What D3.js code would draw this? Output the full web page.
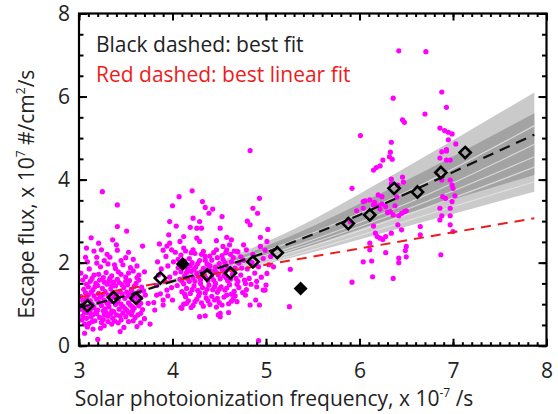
<!DOCTYPE html>
<html>
<head>
<meta charset="utf-8">
<script src="https://d3js.org/d3.v7.min.js"></script>
<style>
body { margin: 0; background: #fff; }
text { font-family: "Open Sans", "Noto Sans", sans-serif; }
</style>
</head>
<body>
<svg id="vis" width="558" height="414"></svg>
<script>
// magenta scatter
const pts_low = [
 [3.06,0.30],[3.20,0.15],[3.11,0.54],[3.44,0.34],[3.53,0.58],[3.62,0.46],[3.09,0.45],[3.15,0.40],[3.27,0.48],[3.35,0.52],[3.03,0.62],[3.70,0.65],[3.48,0.44],
 [3.04,0.72],[3.08,0.66],[3.13,0.70],[3.17,0.60],[3.22,0.68],[3.26,0.63],[3.31,0.71],[3.36,0.66],[3.40,0.74],[3.45,0.62],[3.50,0.70],[3.56,0.75],[3.60,0.68],[3.66,0.78],[3.10,0.79],[3.19,0.77],[3.29,0.80],[3.38,0.59],[3.47,0.79],[3.24,0.56],
 [3.03,0.88],[3.07,0.95],[3.12,0.85],[3.16,0.92],[3.20,0.86],[3.24,0.97],[3.28,0.89],[3.32,0.94],[3.35,0.84],[3.39,0.99],[3.43,0.88],[3.47,0.95],[3.51,0.86],[3.55,0.98],[3.59,0.90],[3.64,0.96],[3.68,0.87],[3.05,1.02],[3.14,1.00],[3.22,1.04],[3.30,1.02],[3.41,1.05],[3.53,1.03],[3.62,1.05],[3.09,0.83],[3.18,0.81],[3.37,0.82],[3.57,0.83],
 [3.04,1.10],[3.08,1.15],[3.12,1.08],[3.16,1.20],[3.19,1.12],[3.23,1.17],[3.27,1.09],[3.31,1.22],[3.34,1.13],[3.38,1.18],[3.42,1.11],[3.46,1.24],[3.49,1.14],[3.53,1.20],[3.57,1.12],[3.61,1.19],[3.66,1.15],[3.07,1.27],[3.13,1.29],[3.21,1.26],[3.28,1.30],[3.36,1.28],[3.44,1.31],[3.51,1.29],[3.58,1.27],[3.64,1.30],[3.71,1.22],
 [3.05,1.36],[3.10,1.42],[3.15,1.35],[3.20,1.45],[3.25,1.38],[3.30,1.48],[3.34,1.37],[3.39,1.44],[3.43,1.52],[3.48,1.40],[3.52,1.47],[3.56,1.36],[3.61,1.50],[3.67,1.41],[3.12,1.55],[3.22,1.58],[3.32,1.56],[3.41,1.60],[3.54,1.57],[3.18,1.50],[3.37,1.53],
 [3.07,1.66],[3.16,1.70],[3.26,1.64],[3.29,1.76],[3.35,1.68],[3.45,1.72],[3.50,1.65],[3.58,1.80],[3.64,1.70],[3.11,1.85],[3.23,1.90],[3.39,1.86],[3.47,1.95],[3.55,1.88],[3.70,1.78],[3.02,1.75],[3.31,1.97],[3.19,1.99],
 [3.25,3.71],[3.41,3.39],[3.41,2.87],[3.51,2.76],[3.21,2.47],[3.40,2.43],[3.16,2.28],[3.24,2.31],[3.41,2.30],[3.07,2.13],[3.19,2.13],[3.33,2.13],[3.58,2.08],[3.30,2.20],[3.45,2.05],[3.08,2.35],[3.53,2.25],[3.13,2.60],
 [3.81,0.86],[3.83,1.22],[3.76,0.52],[3.74,1.02],
 [3.06,0.52],[3.14,0.58],[3.23,0.42],[3.31,0.58],[3.42,0.55],[3.58,0.60],[3.66,0.55],
 [3.06,0.80],[3.15,0.75],[3.27,0.74],[3.34,0.77],[3.44,0.72],[3.53,0.80],[3.63,0.74],
 [3.10,0.92],[3.26,0.84],[3.45,1.00],[3.49,0.90],[3.57,0.94],[3.66,1.02],
 [3.02,1.18],[3.10,1.22],[3.25,1.22],[3.33,1.05],[3.40,1.25],[3.55,1.25],[3.63,1.10],[3.69,1.32],
 [3.08,1.48],[3.17,1.42],[3.27,1.53],[3.35,1.45],[3.46,1.47],[3.50,1.55],[3.59,1.43],[3.64,1.58],
 [3.04,1.58],[3.14,1.62],[3.21,1.72],[3.33,1.62],[3.42,1.78],[3.53,1.75],[3.62,1.64],
 [3.09,2.02],[3.27,2.05],[3.38,1.95],[3.50,2.12],[3.62,1.92],[3.68,2.40],[3.36,2.55]
];
const pts_mid = [
 [4.83,4.70],[4.21,3.73],[4.07,3.59],[4.32,3.47],[4.00,3.37],[4.35,3.33],[4.43,3.29],[4.93,3.55],[4.86,3.31],[4.91,3.19],[4.53,3.11],[4.22,3.07],[3.97,2.99],[4.04,2.88],[4.80,3.00],[5.02,2.80],[3.96,2.67],
 [4.39,3.19],[4.29,2.99],[4.83,2.91],[4.19,2.85],[4.26,2.83],[4.31,2.83],[4.51,2.83],[4.12,2.63],[4.26,2.59],[4.58,2.61],[4.63,2.55],[4.94,2.61],[3.97,2.47],[4.08,2.51],[4.29,2.51],[4.47,2.53],[4.54,2.39],[4.61,2.43],[4.76,2.43],[5.01,2.51],
 [3.99,2.31],[4.12,2.35],[4.22,2.31],[4.33,2.27],[4.47,2.31],[4.58,2.31],[4.69,2.27],[4.79,2.31],[4.94,2.39],
 [4.78,1.50],[4.90,1.42],[4.99,1.34],[4.89,1.10],[4.83,0.98],[3.90,0.98],[4.09,0.92],[3.80,1.04],[4.35,0.72],[4.51,0.78],[4.60,0.80],[4.51,0.70],[4.92,0.12],
 [4.10,0.90],[4.29,0.70],[4.49,0.74],[3.90,1.10],[3.94,1.34],[5.01,1.74],[4.97,1.34],[5.00,1.46],[4.78,1.22],[4.93,0.98],
 [4.12,1.00],[4.17,1.08],[4.22,0.97],[4.26,1.12],[4.31,1.03],[4.36,1.15],[4.40,0.99],[4.45,1.10],[4.50,1.04],[4.55,1.17],[4.60,1.01],[4.65,1.13],[4.69,1.06],[4.14,1.18],[4.28,1.20],[4.42,1.19],[4.58,1.22],[4.20,0.92],[4.47,0.93],
 [4.10,1.30],[4.15,1.38],[4.19,1.26],[4.23,1.44],[4.27,1.33],[4.32,1.40],[4.35,1.27],[4.39,1.46],[4.43,1.35],[4.48,1.29],[4.52,1.42],[4.56,1.34],[4.61,1.47],[4.66,1.31],[4.71,1.40],[4.05,1.45],[4.12,1.49],[4.30,1.50],[4.46,1.50],[4.63,1.24],[4.75,1.28],
 [4.08,1.60],[4.13,1.68],[4.18,1.55],[4.22,1.64],[4.26,1.74],[4.30,1.59],[4.34,1.70],[4.38,1.57],[4.42,1.66],[4.47,1.76],[4.51,1.61],[4.55,1.69],[4.59,1.57],[4.64,1.72],[4.68,1.62],[4.73,1.70],[4.03,1.75],[4.20,1.79],[4.40,1.80],[4.57,1.80],[4.77,1.58],
 [4.06,1.88],[4.11,1.95],[4.16,1.85],[4.21,2.00],[4.25,1.90],[4.29,2.05],[4.33,1.86],[4.37,1.97],[4.42,2.06],[4.46,1.89],[4.50,1.98],[4.54,2.08],[4.58,1.92],[4.63,2.02],[4.67,1.87],[4.71,1.99],[4.01,2.02],[3.95,1.92],[4.76,2.06],[4.18,2.10],
 [4.09,2.18],[4.24,2.22],[4.35,2.15],[4.44,2.24],[4.53,2.17],[4.62,2.20],[4.70,2.26],[4.03,2.25],[4.14,2.28],
 [3.85,1.70],[3.88,1.85],[3.92,1.55],[3.97,1.65],[3.84,2.02],[3.93,2.15],[3.99,1.40],[3.87,1.25],[3.95,1.20],[3.83,1.45],[3.90,2.30],[4.00,1.10],[3.86,2.45],[3.94,2.40],
 [4.80,1.85],[4.85,2.00],[4.88,1.75],[4.92,1.90],[4.97,2.10],[4.82,1.62],[4.86,2.20],[4.95,1.65],[5.03,1.95],[4.79,1.35],[4.84,1.48],[4.90,1.55],[5.05,2.15],[4.99,2.30],
 [4.15,1.02],[4.24,1.06],[4.33,0.95],[4.38,1.08],[4.48,1.14],[4.53,0.98],[4.63,1.07],[4.67,1.20],
 [4.13,1.24],[4.21,1.35],[4.29,1.27],[4.37,1.36],[4.45,1.42],[4.50,1.36],[4.58,1.39],[4.69,1.48],
 [4.10,1.56],[4.16,1.62],[4.24,1.55],[4.28,1.66],[4.36,1.63],[4.44,1.58],[4.49,1.70],[4.57,1.64],[4.62,1.60],[4.70,1.55],
 [4.09,1.78],[4.15,1.76],[4.23,1.84],[4.31,1.78],[4.39,1.88],[4.45,1.80],[4.53,1.84],[4.61,1.85],[4.66,1.78],[4.74,1.87],
 [4.13,2.04],[4.19,1.92],[4.27,1.98],[4.35,2.06],[4.40,1.93],[4.48,2.12],[4.56,2.00],[4.65,2.12],[4.73,2.14],
 [4.06,2.08],[4.20,2.24],[4.31,2.20],[4.40,2.16],[4.57,2.24],[4.66,2.28]
];
const pts_high = [
 [6.42,7.10],[6.71,7.08],[6.36,5.96],[6.88,6.11],[6.93,5.74],[6.70,5.58],[6.46,5.44],[6.48,5.38],[6.01,5.06],[6.86,5.24],[6.91,5.18],[6.95,5.14],[6.99,5.10],[6.95,4.96],[6.93,4.72],
 [6.34,4.90],[7.03,4.86],[6.33,4.66],[6.32,4.55],[6.35,4.49],[6.25,4.47],[6.22,4.33],[6.18,4.29],[6.15,4.23],[6.88,4.67],[6.93,4.69],[6.97,4.47],[6.93,4.47],[6.86,4.52],
 [5.92,3.79],[6.34,4.01],[6.46,4.06],[6.47,3.94],[6.41,3.87],[6.34,3.90],[6.88,3.99],[6.97,3.99],[6.99,3.87],[7.00,3.79],[7.02,3.61],[6.99,3.47],[6.92,3.55],[6.89,3.59],[6.86,3.31],[6.97,3.31],[6.97,3.13],[6.88,3.13],
 [6.06,3.49],[6.11,3.51],[6.16,3.45],[6.20,3.37],[6.24,3.41],[6.28,3.35],[6.22,3.29],[6.30,3.21],[6.33,3.23],[6.36,3.15],[6.42,3.13],[6.45,3.19],[6.48,3.23],[6.50,3.25],[6.38,3.37],[6.40,3.58],[6.24,3.59],[6.20,3.63],
 [5.97,3.25],[6.04,3.31],[5.90,2.99],[6.15,2.88],[6.17,2.71],[6.19,2.63],[6.22,2.59],[6.25,2.56],[6.28,2.63],[6.34,2.71],[6.41,2.91],[6.45,2.79],
 [6.65,2.87],[6.65,2.67],[6.50,2.39],[6.42,2.11],[6.28,2.24],[6.11,2.47],[6.11,2.31],[6.04,2.02],[6.14,1.66],[6.36,1.62],[6.86,3.03],[6.97,2.91],[7.00,2.75],[6.87,2.19],[5.26,1.84],
 [5.92,1.53],[6.13,2.04],[6.42,2.00],[6.50,2.14],[6.49,2.29],[5.25,0.94],[5.08,1.90],[6.15,3.39],[6.04,3.47]
];
// binned means (open) and excluded bins (filled)
const bin_x = [3.09,3.37,3.61,3.87,4.37,4.62,4.86,5.12,5.88,6.11,6.37,6.62,6.87,7.13];
const bin_y = [0.96,1.16,1.14,1.63,1.70,1.75,2.02,2.24,2.94,3.15,3.79,3.70,4.17,4.65];
const out_x = [4.11,5.37];
const out_y = [1.97,1.38];
// fit curves
const fit_x = [3.0,3.5,4.0,4.5,5.0,5.5,6.0,6.5,7.0,7.5,7.87];
const fit_y = [0.92,1.20,1.55,1.88,2.25,2.68,3.15,3.66,4.18,4.70,5.08];
const lin_x = [3.0,7.87];
const lin_y = [1.17,3.07];
// ensemble of fits (gray band)
const band_x = [3.0,4.0,5.2,6.5,7.87];
const band_outer_hi = [0.80,1.60,2.70,4.30,6.10];
const band_outer_lo = [1.10,1.50,2.08,2.87,3.71];
const band_inner_hi = [0.85,1.58,2.58,3.98,5.60];
const band_inner_lo = [1.00,1.53,2.22,3.18,4.11];
const band_lines = [
 [0.98,1.53,2.20,3.15,4.30],
 [0.96,1.54,2.26,3.28,4.55],
 [0.93,1.55,2.32,3.42,4.85],
 [1.05,1.51,2.12,3.00,3.95],
 [0.90,1.57,2.45,3.70,5.30]
];
const x_ticks = [3,4,5,6,7,8];
const y_ticks = [0,2,4,6,8];

const svg = d3.select("#vis");
const x = d3.scaleLinear().domain([3,8]).range([79,546.5]);
const y = d3.scaleLinear().domain([0,8]).range([345.7,13.5]);

// band
const area = (hi, lo) => d3.area()
    .x((d,i) => x(band_x[i]))
    .y0((d,i) => y(lo[i]))
    .y1((d,i) => y(hi[i]))
    .curve(d3.curveMonotoneX)(band_x);
svg.append("path").attr("d", area(band_outer_hi, band_outer_lo)).attr("fill","#cacaca");
svg.append("path").attr("d", area(band_inner_hi, band_inner_lo)).attr("fill","#a3a3a3");
const bline = d3.line().x((d,i) => x(band_x[i])).y(d => y(d)).curve(d3.curveMonotoneX);
svg.selectAll(".bl").data(band_lines).join("path")
    .attr("class","bl")
    .attr("d", bline)
    .attr("fill","none")
    .attr("stroke","#e4e4e4")
    .attr("stroke-width",1.2)
    .attr("opacity",0.8);

// scatter
const pts = pts_low.concat(pts_mid, pts_high);
svg.selectAll(".pt").data(pts).join("circle")
    .attr("class","pt")
    .attr("cx", d => x(d[0]))
    .attr("cy", d => y(d[1]))
    .attr("r", 2.6)
    .attr("fill", "#ff00ff");

// red linear fit
svg.append("path")
    .attr("d", d3.line().x((d,i) => x(lin_x[i])).y(d => y(d))(lin_y))
    .attr("fill","none").attr("stroke","#ee1c1c").attr("stroke-width",2)
    .attr("stroke-dasharray","10,7");

// black best fit
svg.append("path")
    .attr("d", d3.line().x((d,i) => x(fit_x[i])).y(d => y(d)).curve(d3.curveMonotoneX)(fit_y))
    .attr("fill","none").attr("stroke","#111").attr("stroke-width",2.2)
    .attr("stroke-dasharray","11,7");

// diamonds
const diamond = s => `M0,${-s}L${s},0L0,${s}L${-s},0Z`;
svg.selectAll(".bin").data(bin_x).join("path")
    .attr("class","bin")
    .attr("transform", (d,i) => `translate(${x(d)},${y(bin_y[i])})`)
    .attr("d", diamond(5.6))
    .attr("fill","none").attr("stroke","#000").attr("stroke-width",2.6);
svg.selectAll(".out").data(out_x).join("path")
    .attr("class","out")
    .attr("transform", (d,i) => `translate(${x(d)},${y(out_y[i])})`)
    .attr("d", diamond(7))
    .attr("fill","#000");

// axes
const ax = svg.append("g");
const fmt = d3.format("d");
const styleAxis = g => {
    g.select(".domain").remove();
    g.selectAll("line").attr("stroke","#000").attr("stroke-width",2);
    g.selectAll("text").attr("fill","#222").attr("font-family","Open Sans, sans-serif").attr("font-size",21);
};
ax.append("g").attr("transform","translate(0,345.7)")
    .call(d3.axisBottom(x).tickValues(x_ticks).tickSize(-7).tickPadding(17.5).tickFormat(fmt)).call(styleAxis);
ax.append("g").attr("transform","translate(0,345.7)")
    .call(d3.axisBottom(x).tickValues(d3.range(3,8.001,0.1)).tickSize(-3.5).tickFormat("")).call(styleAxis);
ax.append("g").attr("transform","translate(0,13.5)")
    .call(d3.axisTop(x).tickValues(x_ticks).tickSize(-7).tickFormat("")).call(styleAxis);
ax.append("g").attr("transform","translate(0,13.5)")
    .call(d3.axisTop(x).tickValues(d3.range(3,8.001,0.1)).tickSize(-3.5).tickFormat("")).call(styleAxis);
ax.append("g").attr("transform","translate(79,0)")
    .call(d3.axisLeft(y).tickValues(y_ticks).tickSize(-8).tickPadding(9).tickFormat(fmt)).call(styleAxis);
ax.append("g").attr("transform","translate(79,0)")
    .call(d3.axisLeft(y).tickValues(d3.range(0,8.001,0.5)).tickSize(-4.5).tickFormat("")).call(styleAxis);
ax.append("g").attr("transform","translate(546.5,0)")
    .call(d3.axisRight(y).tickValues(y_ticks).tickSize(-8).tickFormat("")).call(styleAxis);
ax.append("g").attr("transform","translate(546.5,0)")
    .call(d3.axisRight(y).tickValues(d3.range(0,8.001,0.5)).tickSize(-4.5).tickFormat("")).call(styleAxis);

svg.append("rect").attr("x",79).attr("y",13.5).attr("width",467.5).attr("height",332.2)
    .attr("fill","none").attr("stroke","#000").attr("stroke-width",2.2);

// legend
svg.append("text").attr("x",96).attr("y",52).attr("font-size",21).attr("fill","#222")
    .text("Black dashed: best fit");
svg.append("text").attr("x",96).attr("y",82).attr("font-size",21).attr("fill","#ee1c1c")
    .text("Red dashed: best linear fit");

// axis titles
const yl = svg.append("text").attr("transform","translate(34,194) rotate(-90)")
    .attr("text-anchor","middle").attr("font-size",21).attr("fill","#222");
yl.append("tspan").text("Escape flux, x 10");
yl.append("tspan").attr("font-size",12).attr("dy",-9).text("7");
yl.append("tspan").attr("dy",9).text(" #/cm");
yl.append("tspan").attr("font-size",12).attr("dy",-9).text("2");
yl.append("tspan").attr("dy",9).text("/s");

const xl = svg.append("text").attr("x",274).attr("y",406)
    .attr("text-anchor","middle").attr("font-size",21).attr("fill","#222");
xl.append("tspan").text("Solar photoionization frequency, x 10");
xl.append("tspan").attr("font-size",12).attr("dy",-9).text("-7");
xl.append("tspan").attr("dy",9).text(" /s");
</script>
</body>
</html>
